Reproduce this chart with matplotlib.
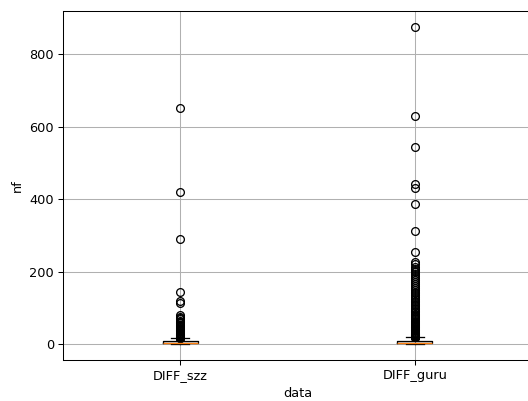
import numpy as np
import matplotlib
matplotlib.use("Agg")
import matplotlib.pyplot as plt

labels = ["DIFF_szz", "DIFF_guru"]

# bulk of each sample: value -> number of occurrences
szz_values = list(range(0, 19))
szz_counts = [50, 70, 60, 50, 40, 35, 30, 25, 20, 15, 12, 10, 8, 7, 6, 5, 4, 3, 3]
szz_tail = [19, 20, 21, 22, 23, 24, 25, 26, 27, 28, 30, 31, 33, 35, 36, 38, 40,
            42, 44, 47, 50, 53, 57, 61, 65, 68, 72, 76, 80, 113, 119, 144,
            290, 420, 650]

guru_values = list(range(0, 22))
guru_counts = [120, 150, 130, 110, 90, 80, 70, 60, 50, 45, 38, 30, 25, 22, 18,
               15, 12, 10, 8, 7, 6, 5]
guru_tail = [22, 23, 24, 25, 26, 27, 28, 29, 30, 32, 34, 36, 38, 40, 42, 44, 46,
             48, 50, 53, 56, 59, 62, 65, 68, 71, 74, 77, 80, 84, 88, 92, 96, 100,
             104, 108, 112, 116, 120, 125, 130, 135, 140, 145, 150, 155, 160,
             165, 170, 176, 182, 188, 193, 198, 203, 208, 214, 222, 226, 253,
             312, 387, 430, 441, 543, 629, 875]

szz = np.concatenate([np.repeat(szz_values, szz_counts), szz_tail])
guru = np.concatenate([np.repeat(guru_values, guru_counts), guru_tail])

dpi = 93
fig = plt.figure(figsize=(528 / dpi, 401 / dpi), dpi=dpi)
ax = fig.add_axes([63 / 528, 1 - 360 / 401, 469 / 528, 349 / 401])

ax.boxplot([szz, guru])
ax.set_xticks([1, 2])
ax.set_xticklabels(labels)
ax.set_xlabel("data")
ax.set_ylabel("nf")
ax.grid(True)

fig.savefig("out.png", dpi=dpi)
